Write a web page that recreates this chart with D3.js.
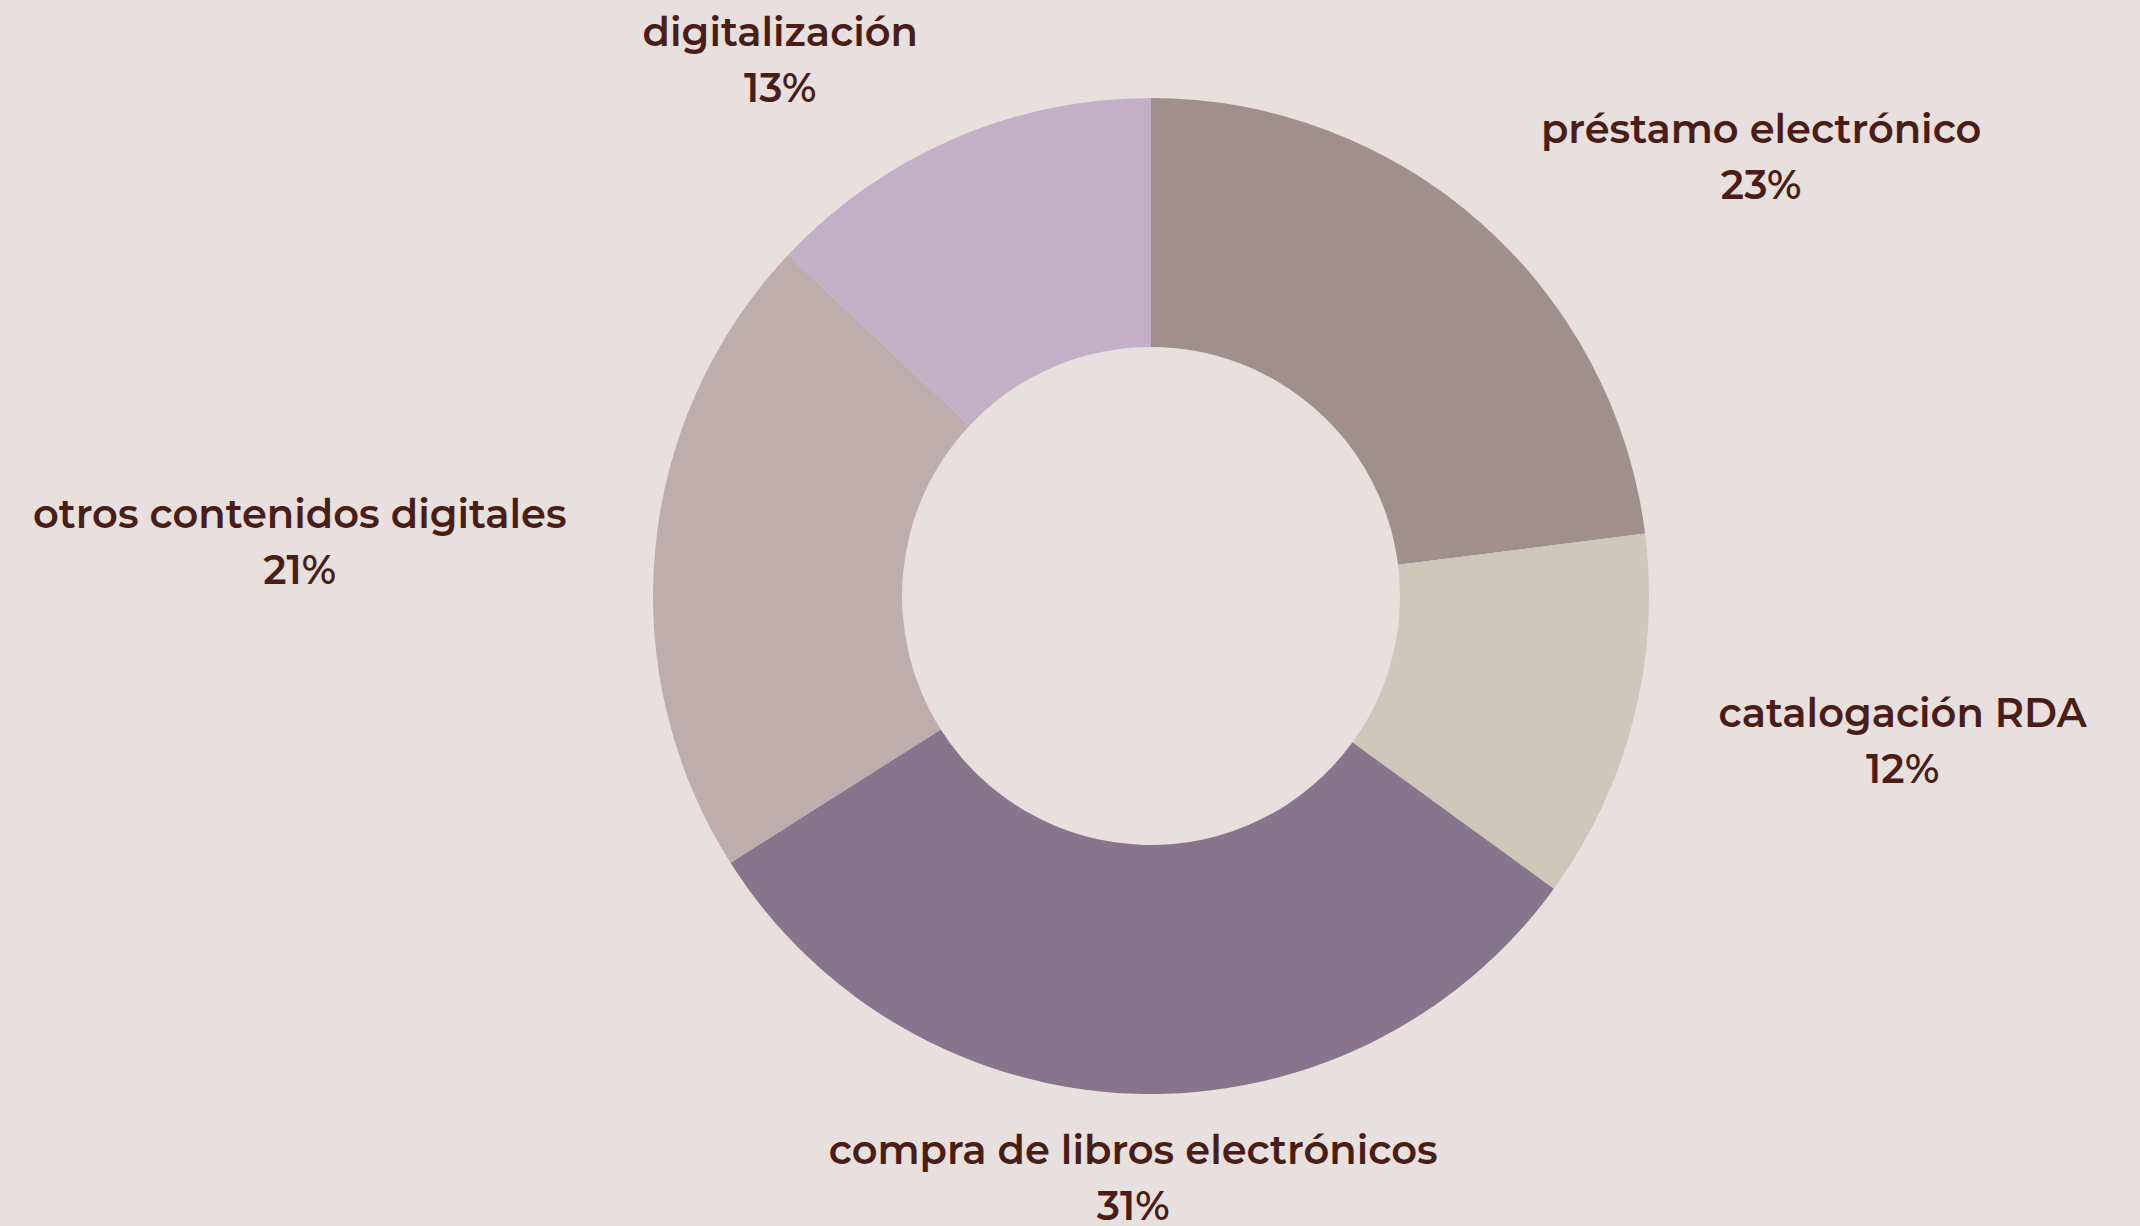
<!DOCTYPE html>
<html>
<head>
<meta charset="utf-8">
<script src="https://cdn.jsdelivr.net/npm/d3@7"></script>
<style>
  html, body { margin: 0; padding: 0; background: #e8dfdf; }
  svg text { font-family: Montserrat, "Noto Sans", "Open Sans", sans-serif; font-weight: 600; fill: #4a1d16; }
</style>
</head>
<body>
<svg id="donut"></svg>
<script>
// slices, clockwise from 12 o'clock
const categories = ["préstamo electrónico", "catalogación RDA", "compra de libros electrónicos", "otros contenidos digitales", "digitalización"];
const shares = [23, 12, 31, 21, 13];
const colors = ["#a18f8e", "#cfc7ba", "#88748c", "#bfadad", "#c3b0c7"];

// where each label sits, relative to the donut centre (degrees clockwise from top, px)
const labelAngle = [53.4, 99.9, 181.8, 274.6, -34.0];
const labelDist = [760, 763, 568, 854, 663];

const width = 2140, height = 1226;
const cx = 1151, cy = 596, outerR = 498, innerR = 249;

const svg = d3.select("#donut")
    .attr("width", width)
    .attr("height", height);

const data = categories.map((c, i) => ({name: c, value: shares[i], i: i}));

const pie = d3.pie()
    .value(d => d.value)
    .sort(null);

const arc = d3.arc()
    .innerRadius(innerR)
    .outerRadius(outerR);

const g = svg.append("g")
    .attr("transform", `translate(${cx},${cy})`);

g.selectAll("path").data(pie(data)).enter().append("path")
    .attr("d", arc)
    .attr("fill", d => colors[d.data.i]);

const labels = g.selectAll("g.lbl").data(data).enter().append("g")
    .attr("class", "lbl")
    .attr("transform", d => {
        const p = d3.pointRadial(labelAngle[d.i] * Math.PI / 180, labelDist[d.i]);
        return `translate(${p[0]},${p[1]})`;
    });

labels.append("text")
    .attr("text-anchor", "middle")
    .style("font-size", "40px")
    .text(d => d.name);

labels.append("text")
    .attr("text-anchor", "middle")
    .attr("y", 56)
    .style("font-size", "40px")
    .text(d => d.value + "%");
</script>
</body>
</html>
